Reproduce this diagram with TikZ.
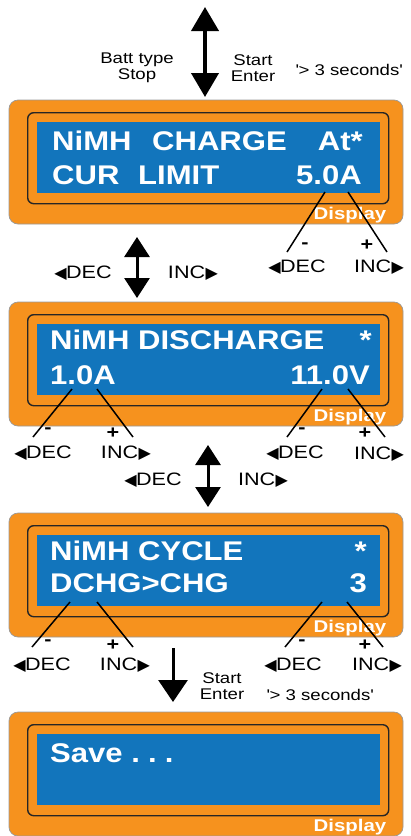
\documentclass[tikz,border=0pt]{standalone}
\usepackage{fontspec}
\setmainfont{Liberation Sans}
\newfontfamily\labf[FakeStretch=1.2]{Liberation Sans}
\newfontfamily\panf[FakeStretch=1.15]{Liberation Sans}
\newfontfamily\symf{DejaVu Sans}
\usetikzlibrary{arrows.meta}
\definecolor{lcdorange}{RGB}{246,146,30}
\definecolor{lcdblue}{RGB}{18,117,188}
\newcommand\mydec{{\symf\fontsize{16}{16}\selectfont ◀}\kern-0.5pt DEC}
\newcommand\myinc{INC\kern0.5pt{\symf\fontsize{16}{16}\selectfont ▶}}
\tikzset{
  outerbox/.style={draw=black!40, line width=0.7pt, fill=lcdorange, rounded corners=9pt,
    minimum width=394pt, minimum height=124pt, anchor=north west, inner sep=0pt, outer sep=0pt},
  innerbox/.style={draw=black!85, line width=1.4pt, rounded corners=6pt,
    minimum width=361pt, minimum height=91pt, anchor=north west, inner sep=0pt},
  lcd/.style={fill=lcdblue, minimum width=343pt, minimum height=71pt, anchor=north west, inner sep=0pt},
  lcdtext/.style={text=white, font=\panf\bfseries\fontsize{27}{27}\selectfont, inner sep=0pt},
  disp/.style={text=white, font=\labf\bfseries\fontsize{17}{17}\selectfont, anchor=base, inner sep=0pt},
  lab/.style={font=\labf\fontsize{15.5}{16}\selectfont, align=center, inner sep=0pt},
  key/.style={font=\labf\fontsize{18}{18}\selectfont, inner sep=0pt},
  sign/.style={font=\labf\bfseries\fontsize{18}{18}\selectfont, inner sep=0pt},
  lead/.style={line width=1.5pt, black},
  dblarrow/.style={line width=3pt, {Triangle[length=20pt,width=25pt]}-{Triangle[length=20pt,width=25pt]}},
}
\newcommand\lcdpanel[2]{%
  \node[outerbox] (#1o) at (9,#2) {};
  \node[innerbox] (#1i) at (27,#2+12) {};
  \node[lcd] (#1b) at (37,#2+22) {};
  \node[disp] (#1d) at (350,#2+119) {Display};
}
\begin{document}
\begin{tikzpicture}[x=1pt,y=-1pt]
\useasboundingbox (0,0) rectangle (411,836);

% ---- top arrow and labels
\coordinate (ta) at (205,7);
\coordinate (tb) at (205,97);
\draw[line width=4pt, {Triangle[length=24pt,width=27pt]}-{Triangle[length=24pt,width=27pt]}] (ta) -- (tb);
\node[lab] (battstop) at (137,68) {Batt type\\Stop};
\node[lab] (startenter1) at (253,68) {Start\\Enter};
\node[lab] (sec1) at (349,70) {\textquotesingle> 3 seconds\textquotesingle};

% ---- panel 1
\lcdpanel{p1}{100}
\node[lcdtext, anchor=base west] (p1t1) at (52,150) {NiMH};
\node[lcdtext, anchor=base west] (p1t2) at (152,150) {CHARGE};
\node[lcdtext, anchor=base east] (p1t3) at (363,150) {At*};
\node[lcdtext, anchor=base west] (p1t4) at (52,184) {CUR};
\node[lcdtext, anchor=base west] (p1t5) at (138,184) {LIMIT};
\node[lcdtext, anchor=base east] (p1t6) at (362,184) {5.0A};

\coordinate (p1ra) at (325,192); \coordinate (p1rae) at (287,252);
\coordinate (p1rb) at (348,192); \coordinate (p1rbe) at (387,252);
\draw[lead] (p1ra) -- (p1rae);
\draw[lead] (p1rb) -- (p1rbe);
\node[sign] (p1m) at (305,246) {-};
\node[sign] (p1p) at (367,245) {+};
\node[key] (p1dec) at (297,267) {\mydec};
\node[key] (p1inc) at (379,267) {\myinc};

% ---- arrow between panel 1 and 2
\coordinate (a1a) at (137,237);
\coordinate (a1b) at (137,298);
\draw[dblarrow] (a1a) -- (a1b);
\node[key] (a1dec) at (83,273) {\mydec};
\node[key] (a1inc) at (193,273) {\myinc};

% ---- panel 2
\lcdpanel{p2}{302}
\node[lcdtext, anchor=base west] (p2t1) at (50,349) {NiMH DISCHARGE};
\node[lcdtext, anchor=base east] (p2t2) at (372,349) {*};
\node[lcdtext, anchor=base west] (p2t3) at (50,384) {1.0A};
\node[lcdtext, anchor=base east] (p2t4) at (370,384) {11.0V};

\coordinate (p2la) at (72,389); \coordinate (p2lae) at (33,437);
\coordinate (p2lb) at (97,389); \coordinate (p2lbe) at (133,437);
\coordinate (p2ra) at (322,389); \coordinate (p2rae) at (287,437);
\coordinate (p2rb) at (348,389); \coordinate (p2rbe) at (385,437);
\draw[lead] (p2la) -- (p2lae);
\draw[lead] (p2lb) -- (p2lbe);
\draw[lead] (p2ra) -- (p2rae);
\draw[lead] (p2rb) -- (p2rbe);
\node[sign] (p2lm) at (48,431) {-};
\node[sign] (p2lp) at (113,433) {+};
\node[sign] (p2rm) at (302,431) {-};
\node[sign] (p2rp) at (365,433) {+};
\node[key] (p2ldec) at (43,453) {\mydec};
\node[key] (p2linc) at (126,453) {\myinc};
\node[key] (p2rdec) at (295,453) {\mydec};
\node[key] (p2rinc) at (379,454) {\myinc};

% ---- arrow between panel 2 and 3
\coordinate (a2a) at (208,445);
\coordinate (a2b) at (208,507);
\draw[dblarrow] (a2a) -- (a2b);
\node[key] (a2dec) at (153,480) {\mydec};
\node[key] (a2inc) at (263,480) {\myinc};

% ---- panel 3
\lcdpanel{p3}{513}
\node[lcdtext, anchor=base west] (p3t1) at (50,560) {NiMH CYCLE};
\node[lcdtext, anchor=base east] (p3t2) at (367,560) {*};
\node[lcdtext, anchor=base west] (p3t3) at (50,592) {DCHG>CHG};
\node[lcdtext, anchor=base east] (p3t4) at (367,592) {3};

\coordinate (p3la) at (70,602); \coordinate (p3lae) at (32,647);
\coordinate (p3lb) at (97,602); \coordinate (p3lbe) at (133,647);
\coordinate (p3ra) at (322,602); \coordinate (p3rae) at (285,647);
\coordinate (p3rb) at (347,602); \coordinate (p3rbe) at (383,647);
\draw[lead] (p3la) -- (p3lae);
\draw[lead] (p3lb) -- (p3lbe);
\draw[lead] (p3ra) -- (p3rae);
\draw[lead] (p3rb) -- (p3rbe);
\node[sign] (p3lm) at (48,643) {-};
\node[sign] (p3lp) at (113,645) {+};
\node[sign] (p3rm) at (302,643) {-};
\node[sign] (p3rp) at (365,645) {+};
\node[key] (p3ldec) at (42,665) {\mydec};
\node[key] (p3linc) at (125,665) {\myinc};
\node[key] (p3rdec) at (293,665) {\mydec};
\node[key] (p3rinc) at (377,665) {\myinc};

% ---- arrow to panel 4
\coordinate (a3a) at (173,648);
\coordinate (a3b) at (173,702);
\draw[line width=3pt, -{Triangle[length=22pt,width=29pt]}] (a3a) -- (a3b);
\node[lab] (startenter2) at (222,686) {Start\\Enter};
\node[lab] (sec2) at (320,695) {\textquotesingle> 3 seconds\textquotesingle};

% ---- panel 4
\lcdpanel{p4}{712}
\node[lcdtext, anchor=base west] (p4t1) at (50,762) {Save {\addfontfeatures{LetterSpace=30}...}};
\end{tikzpicture}
\end{document}
